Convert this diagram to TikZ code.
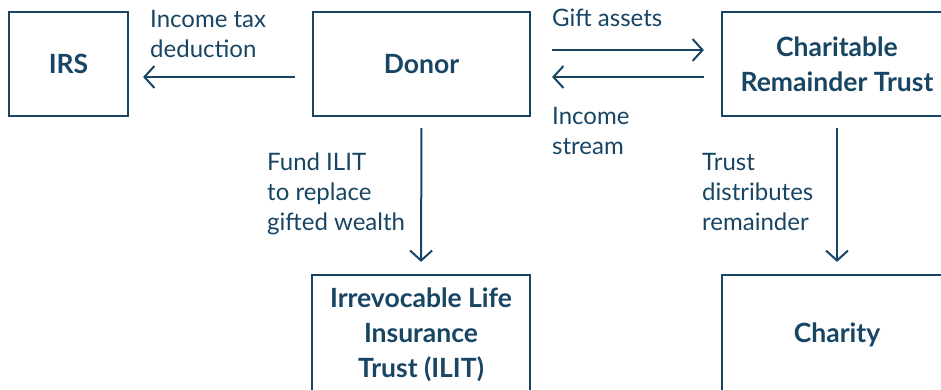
\documentclass[tikz,border=0pt]{standalone}
\usepackage{fontspec}
\setmainfont{Lato}
\usetikzlibrary{arrows.meta,calc}
\definecolor{navy}{RGB}{23,69,99}
\begin{document}
\begin{tikzpicture}[x=1pt,y=-1pt,
  box/.style={draw=navy, line width=2.2pt, rectangle, inner sep=0pt,
    text=navy, align=center, font=\fontsize{26.5}{35}\selectfont\bfseries},
  arr/.style={draw=navy, line width=2pt, -{Straight Barb[length=10pt,width=22pt]}},
  lbl/.style={text=navy, anchor=north west, inner sep=0pt, align=left,
    font=\fontsize{24}{30}\selectfont}
]
\useasboundingbox (0,0) rectangle (941,389);
\clip (0,0) rectangle (941,389);

% boxes
\node[box, minimum width=119pt, minimum height=104pt] (irs) at (68.5,64) {IRS};
\node[box, minimum width=217pt, minimum height=104pt] (donor) at (421.5,64) {Donor};
\node[box, minimum width=230pt, minimum height=104pt] (crt) at (837,64) {Charitable\\Remainder Trust};
\node[box, minimum width=218pt, minimum height=120pt] (ilit) at (421,335) {Irrevocable Life\\Insurance\\Trust (ILIT)};
\node[box, minimum width=230pt, minimum height=120pt] (charity) at (837,335) {Charity};

% connectors
\draw[arr, shorten <=17pt, shorten >=14pt] ($(donor.west)+(0,13)$) -- ($(irs.east)+(0,13)$);
\draw[arr, shorten <=21pt, shorten >=17pt] ($(donor.east)+(0,-14)$) -- ($(crt.west)+(0,-14)$);
\draw[arr, shorten <=17pt, shorten >=21pt] ($(crt.west)+(0,13)$) -- ($(donor.east)+(0,13)$);
\draw[arr, shorten <=11pt, shorten >=12pt] (donor.south) -- (ilit.north);
\draw[arr, shorten <=11pt, shorten >=12pt] (crt.south) -- (charity.north);

% connector labels
\node[lbl] (l1) at (150,10) {Income tax\\deduction};
\node[lbl] (l2) at (552,9) {Gift assets};
\node[lbl] (l3) at (552,107) {Income\\stream};
\node[lbl] (l4) at (267,153) {Fund ILIT\\to replace\\gifted wealth};
\node[lbl] (l5) at (702,153) {Trust\\distributes\\remainder};
\end{tikzpicture}
\end{document}
